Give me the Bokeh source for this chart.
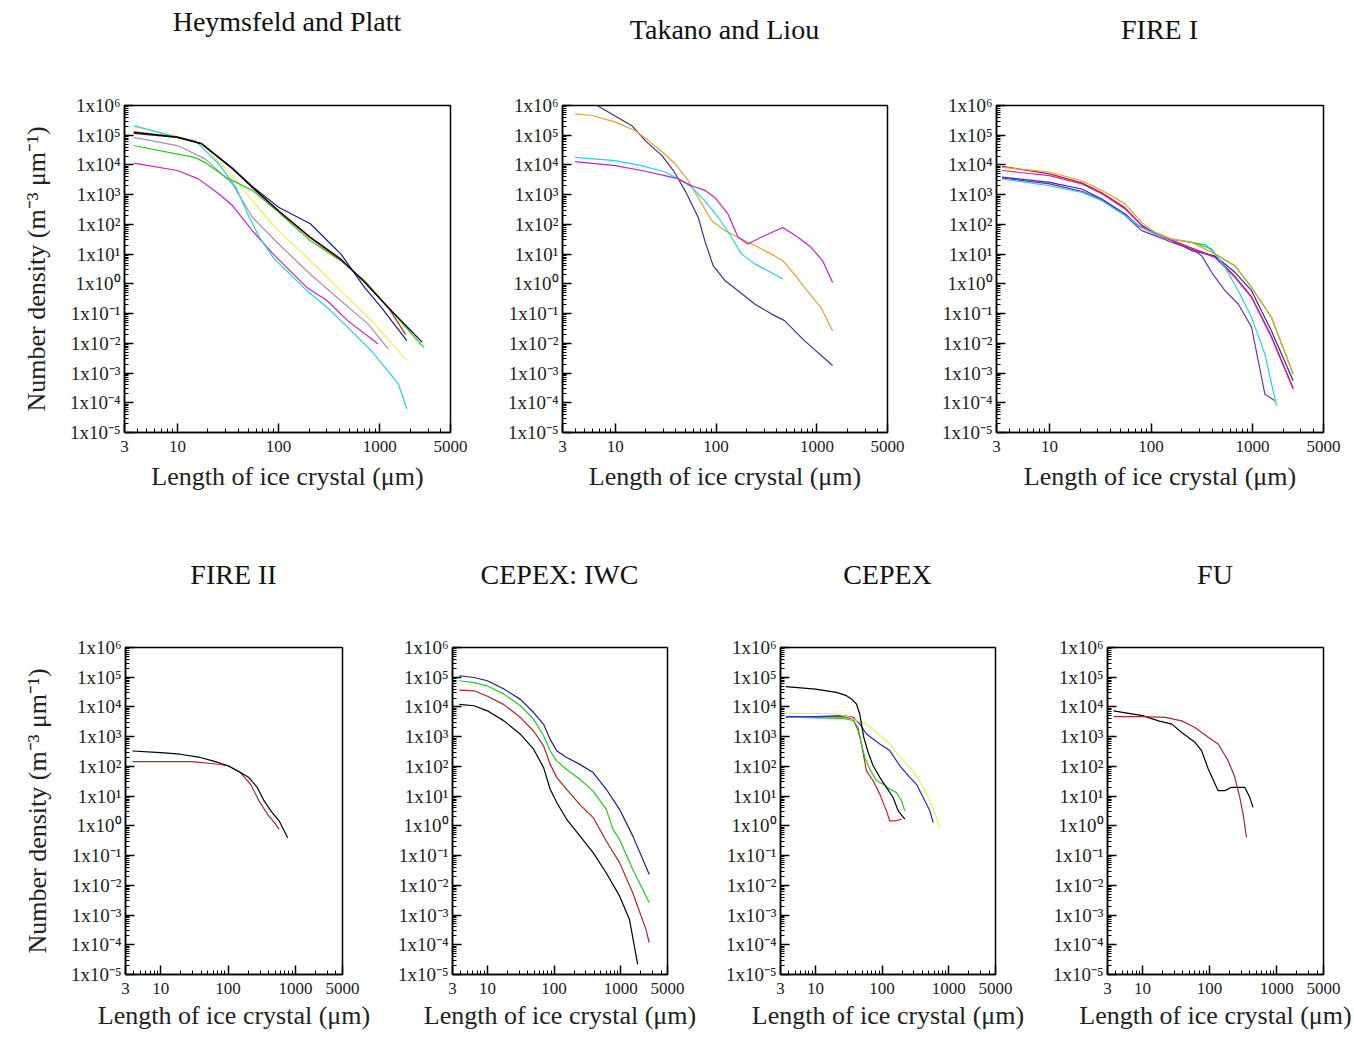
from bokeh.plotting import figure
from bokeh.models import Range1d, FixedTicker, CustomJSTickFormatter, NumeralTickFormatter, Div
from bokeh.layouts import row, column
from bokeh.embed import file_html
from bokeh.resources import INLINE

# ---------------- data ----------------
# Heymsfeld and Platt
HP_BLACK_X = [3.7, 10, 17.4, 35, 55, 100, 206, 412, 707, 1213, 2620]
HP_BLACK_Y = [1.26e5, 8.5e4, 5.1e4, 7.4e3, 1.8e3, 290, 37, 6.9, 1.12, 0.16, 0.011]
HP_NAVY_X = [3.7, 10, 17.4, 35, 55, 100, 206, 353, 412, 707, 1040, 1850]
HP_NAVY_Y = [1.15e5, 8.5e4, 5.2e4, 7.9e3, 1.9e3, 380, 105, 17, 10.2, 0.76, 0.16, 0.0123]
HP_RED_X = [3.7, 10, 17.4, 35, 55, 100, 206, 412, 707, 1213, 1800]
HP_RED_Y = [1.3e5, 8.9e4, 5.2e4, 7.6e3, 1.7e3, 275, 35, 6.3, 1.2, 0.16, 0.02]
HP_GREEN_X = [3.7, 10, 14.9, 18.8, 29.9, 55, 100, 206, 412, 707, 1213, 2730]
HP_GREEN_Y = [4.5e4, 2.3e4, 1.8e4, 1.2e4, 3.9e3, 1.4e3, 257, 28, 6.0, 1.3, 0.16, 0.0072]
HP_CYAN_X = [3.7, 10, 14.9, 25.6, 37.7, 51.3, 64.7, 88, 120, 190, 303, 445, 825, 1528, 1853]
HP_CYAN_Y = [2.1e5, 8.5e4, 6.6e4, 1.1e4, 1.8e3, 174, 37, 7.8, 2.75, 0.59, 0.16, 0.045, 0.0056, 4.3e-4, 6.2e-5]
HP_YELLOW_X = [3.7, 10, 17.4, 35, 55, 75.5, 100, 206, 412, 825, 1853]
HP_YELLOW_Y = [1.95e5, 9.1e4, 5.2e4, 4.4e3, 630, 174, 62, 6.0, 0.59, 0.058, 0.0026]
HP_THISTLE_X = [3.7, 10, 18.8, 35, 55, 100, 206, 412, 764, 1213]
HP_THISTLE_Y = [8.5e4, 4.5e4, 1.6e4, 2.3e3, 174, 22, 2.1, 0.27, 0.045, 0.0065]
HP_MAGENTA_X = [3.7, 10, 16.1, 25.6, 35, 55, 88, 120, 190, 303, 481, 962]
HP_MAGENTA_Y = [1.15e4, 6.5e3, 3.4e3, 1.07e3, 430, 62, 10.2, 3.6, 0.76, 0.27, 0.058, 0.0095]

# Takano and Liou
TL_INDIGO_X = [4, 6.6, 14.6, 19.8, 28.9, 37.7, 49.1, 66.4, 77.3, 93.4, 122, 165, 241, 352, 476, 750, 1428]
TL_INDIGO_Y = [2.7e6, 1e6, 2.1e5, 6.6e4, 2.1e4, 6.5e3, 1.4e3, 174, 28, 4.1, 1.3, 0.59, 0.21, 0.098, 0.058, 0.0123, 0.0018]
TL_ORANGE_X = [4, 5.9, 10, 15.7, 21.3, 31.1, 39.1, 52.9, 66.4, 90, 122, 165, 241, 352, 458, 598, 750, 1095, 1428]
TL_ORANGE_Y = [5.2e5, 4.6e5, 2.75e5, 1.45e5, 6.6e4, 2.3e4, 1.1e4, 2.95e3, 810, 135, 62, 37, 19.5, 10.2, 6.0, 2.1, 0.76, 0.16, 0.026]
TL_CYAN_X = [4, 10, 18.3, 31.1, 42.2, 57.1, 77.3, 105, 142, 178, 241, 326, 458]
TL_CYAN_Y = [1.8e4, 1.4e4, 9.5e3, 5.8e3, 3.4e3, 1.8e3, 630, 174, 37, 10.2, 4.7, 2.75, 1.45]
TL_MAGENTA_X = [4, 10, 18.3, 31.1, 42.2, 57.1, 77.3, 97, 131, 165, 207, 280, 458, 645, 873, 1137, 1428]
TL_MAGENTA_Y = [1.3e4, 9.5e3, 6.5e3, 4.4e3, 3.4e3, 2.0e3, 1.4e3, 810, 224, 37, 22, 37, 79, 37, 17, 6.0, 1.12]

# FIRE I
F1_X = [3.4, 10, 20.8, 32.7, 55.5, 80.9, 109, 160, 251, 426, 670, 977, 1537, 2512]
F1_ORANGE_Y = [8.3e3, 5.8e3, 2.95e3, 1.4e3, 490, 117, 55, 32, 25, 10.2, 4.1, 0.76, 0.074, 9.3e-4]
F1_RED_Y = [8.9e3, 5.0e3, 2.5e3, 1.15e3, 360, 95, 50, 30, 16, 8.2, 1.8, 0.37, 0.017, 3.1e-4]
F1_MAGENTA_Y = [6.5e3, 4.4e3, 2.3e3, 1.07e3, 330, 91, 48, 29, 15, 7.8, 1.66, 0.35, 0.0158, 2.9e-4]
F1_BLUE_X = [3.4, 10, 20.8, 32.7, 55.5, 75, 102, 160, 251, 426, 670, 977, 1537, 2512]
F1_BLUE_Y = [3.9e3, 2.6e3, 1.55e3, 720, 224, 91, 55, 29, 13.2, 8.7, 2.45, 0.59, 0.026, 5.5e-4]
F1_CYAN_X = [3.4, 10, 20.8, 32.7, 55.5, 80.9, 109, 160, 251, 395, 535, 723, 977, 1322, 1722]
F1_CYAN_Y = [3.4e3, 2.0e3, 1.2e3, 630, 200, 79, 48, 32, 25, 15, 3.6, 0.59, 0.074, 0.0044, 7.9e-5]
F1_PURPLE_X = [3.4, 10, 20.8, 32.7, 55.5, 80.9, 109, 160, 251, 315, 395, 535, 723, 977, 1322, 1659]
F1_PURPLE_Y = [3.6e3, 2.3e3, 1.3e3, 680, 200, 62, 42, 25, 15, 8.9, 2.45, 0.59, 0.21, 0.035, 1.95e-4, 1.17e-4]
F1_GREEN_X = [160, 251, 350, 426, 670, 977, 1537, 2512]
F1_GREEN_Y = [32, 25, 20, 10.2, 4.1, 0.76, 0.074, 9.3e-4]

# FIRE II
F2_BLACK_X = [3.8, 10, 19.3, 38.5, 61, 100, 153, 204, 272, 343, 432, 575, 767]
F2_BLACK_Y = [330, 290, 257, 200, 151, 105, 62, 42, 19.5, 6.9, 3.2, 1.45, 0.40]
F2_RED_X = [3.8, 10, 28.8, 61, 100, 153, 216, 288, 385, 484, 575]
F2_RED_Y = [145, 145, 145, 123, 105, 62, 25, 6.9, 2.45, 1.3, 0.76]

# CEPEX: IWC
CI_BLUE_X = [3.8, 6.3, 10, 17.7, 31.3, 49.3, 69.5, 87.3, 110, 154, 243, 384, 605, 955, 1507, 2666]
CI_BLUE_Y = [1.12e5, 9.8e4, 7.6e4, 4.0e4, 1.8e4, 6.5e3, 2.6e3, 810, 330, 200, 117, 62, 17, 3.6, 0.46, 0.023]
CI_GREEN_X = [3.8, 6.3, 10, 17.7, 31.3, 49.3, 69.5, 87.3, 110, 154, 243, 384, 605, 760, 955, 1507, 2122, 2666]
CI_GREEN_Y = [7.6e4, 6.6e4, 5.1e4, 2.7e4, 1.1e4, 3.9e3, 1.07e3, 330, 151, 79, 37, 14.8, 3.6, 0.76, 0.35, 0.035, 0.0072, 0.0026]
CI_RED_X = [3.8, 6.3, 10, 17.7, 31.3, 49.3, 69.5, 87.3, 110, 154, 243, 384, 605, 955, 1507, 2377, 2666]
CI_RED_Y = [3.7e4, 3.5e4, 2.3e4, 1.2e4, 4.4e3, 1.55e3, 490, 117, 42, 17, 5.2, 1.9, 0.31, 0.058, 0.0056, 3.3e-4, 1.17e-4]
CI_BLACK_X = [3.8, 6.3, 10, 17.7, 31.3, 49.3, 69.5, 87.3, 110, 154, 243, 384, 605, 955, 1345, 1786]
CI_BLACK_Y = [1.23e4, 1.1e4, 7.4e3, 3.4e3, 1.2e3, 380, 91, 17, 6.0, 1.66, 0.46, 0.126, 0.026, 0.0044, 7.1e-4, 2.2e-5]

# CEPEX
CE_BLACK_X = [3.6, 10, 20.7, 29.2, 34.7, 41.2, 46.2, 49, 53.1, 61.7, 73.3, 92.3, 116, 146, 174, 219]
CE_BLACK_Y = [4.8e4, 4.0e4, 3.1e4, 2.4e4, 1.86e4, 1.26e4, 5.8e3, 2.7e3, 950, 300, 105, 43, 19.6, 9.0, 3.2, 1.68]
CE_YELLOW_X = [3.6, 10, 20.7, 32.7, 41.2, 58.2, 82.2, 130, 207, 292, 412, 519, 653, 733]
CE_YELLOW_Y = [6.1e3, 6.1e3, 5.8e3, 4.5e3, 3.5e3, 2.7e3, 1.4e3, 570, 155, 71, 19.6, 7.0, 1.9, 0.88]
CE_BLUE_X = [3.6, 10, 26, 36.7, 46.2, 58.2, 92.3, 130, 184, 260, 327, 412, 519, 582]
CE_BLUE_Y = [4.7e3, 4.7e3, 5.1e3, 4.5e3, 2.7e3, 1.23e3, 570, 340, 105, 43, 25, 9.0, 3.2, 1.3]
CE_GREEN_X = [3.6, 10, 26, 36.7, 43.7, 49, 55, 65.3, 82.2, 104, 130, 164, 195, 219]
CE_GREEN_Y = [4.5e3, 4.3e3, 4.15e3, 3.5e3, 2.07e3, 570, 200, 81, 33, 25, 17.2, 13.3, 7.0, 3.2]
CE_RED_X = [3.6, 10, 26, 36.7, 43.7, 49, 58.2, 73.3, 92.3, 116, 130, 164, 195]
CE_RED_Y = [4.5e3, 4.5e3, 4.7e3, 3.95e3, 1.6e3, 570, 71, 33, 11.7, 3.2, 1.48, 1.48, 1.68]

# FU
FU_BLACK_X = [3.7, 6.2, 10, 17.3, 27.3, 38.4, 60.5, 76, 95.5, 134, 169, 212, 335, 397, 445]
FU_BLACK_Y = [7.4e3, 6.1e3, 5.1e3, 3.4e3, 2.65e3, 1.39e3, 645, 338, 82, 15.3, 15.3, 19.8, 19.8, 9.1, 4.2]
FU_RED_X = [3.7, 10, 21.7, 38.4, 60.5, 95.5, 134, 189, 238, 282, 316, 355]
FU_RED_Y = [4.7e3, 4.7e3, 4.45e3, 3.4e3, 2.05e3, 950, 570, 156, 43, 9.1, 2.5, 0.41]

TITLES = ["Heymsfeld and Platt", "Takano and Liou", "FIRE I",
          "FIRE II", "CEPEX: IWC", "CEPEX", "FU"]
X_LABEL = "Length of ice crystal (\u03bcm)"
Y_LABEL = "Number density (m\u207b\u00b3 \u03bcm\u207b\u00b9)"
X_MAJOR = [3, 10, 100, 1000, 5000]
X_MINOR = [4, 5, 6, 7, 8, 9, 20, 30, 40, 50, 60, 70, 80, 90,
           200, 300, 400, 500, 600, 700, 800, 900, 2000, 3000, 4000]
Y_EXPONENTS = list(range(-5, 7))

BLACK = "#000000"; NAVY = "#1c1c96"; RED = "#b42222"; GREEN = "#22cc22"
CYAN = "#22d4e4"; YELLOW = "#eeee55"; MAGENTA = "#c424c4"; THISTLE = "#a890a8"
ORANGE = "#e2a22c"; INDIGO = "#4a2c8c"; PURPLE = "#7a30b0"; BLUE = "#2a2ab8"
DKRED = "#a82a2a"

FONT = "Liberation Serif"

y_major = [10.0 ** e for e in Y_EXPONENTS]
y_minor = [m * 10.0 ** e for e in Y_EXPONENTS[:-1] for m in range(2, 10)]

Y_FMT = CustomJSTickFormatter(code="""
const sup = {"-":"\u207b","0":"\u2070","1":"\u00b9","2":"\u00b2","3":"\u00b3","4":"\u2074",
             "5":"\u2075","6":"\u2076","7":"\u2077","8":"\u2078","9":"\u2079"};
const e = Math.round(Math.log10(tick));
return "1x10" + String(e).split("").map(c => sup[c]).join("");
""")


def make_panel(left, fw, right, top, fh, bottom, ylabel, xlabel_standoff):
    p = figure(x_axis_type="log", y_axis_type="log",
               x_range=Range1d(3, 5000), y_range=Range1d(1e-5, 1e6),
               frame_width=fw, frame_height=fh,
               min_border_left=left, min_border_right=right,
               min_border_top=top, min_border_bottom=bottom,
               output_backend="svg", toolbar_location=None)
    p.xgrid.visible = False
    p.ygrid.visible = False
    p.outline_line_color = "black"
    p.outline_line_width = 1.5
    p.outline_line_alpha = 1.0
    p.background_fill_color = "white"
    p.border_fill_color = "white"

    xa = p.xaxis[0]
    xa.ticker = FixedTicker(ticks=X_MAJOR, minor_ticks=X_MINOR)
    xa.formatter = NumeralTickFormatter(format="0")
    xa.axis_label = X_LABEL
    ya = p.yaxis[0]
    ya.ticker = FixedTicker(ticks=y_major, minor_ticks=y_minor)
    ya.formatter = Y_FMT
    if ylabel:
        ya.axis_label = Y_LABEL
    for ax in (xa, ya):
        ax.axis_line_color = "black"
        ax.axis_line_width = 1.5
        ax.major_tick_in = 9
        ax.major_tick_out = 0
        ax.minor_tick_in = 4
        ax.minor_tick_out = 0
        ax.major_tick_line_color = "black"
        ax.major_tick_line_width = 1.5
        ax.minor_tick_line_color = "black"
        ax.minor_tick_line_width = 1
        ax.major_label_text_font = FONT
        ax.major_label_text_color = "#222222"
        ax.axis_label_text_font = FONT
        ax.axis_label_text_font_style = "normal"
        ax.axis_label_text_font_size = "26px"
        ax.axis_label_text_color = "#222222"
    xa.major_label_text_font_size = "17px"
    xa.major_label_standoff = 8
    xa.axis_label_standoff = xlabel_standoff
    ya.major_label_text_font_size = "19px"
    ya.major_label_standoff = 4
    ya.axis_label_standoff = 16
    return p


def title_div(text, left, fw, right, height, dy):
    width = left + fw + right
    shift = (left - right) / 2.0
    html = ('<div style="position:relative; left:%.1fpx; top:%dpx; width:%dpx; text-align:center; '
            'font-family:\'Liberation Serif\', serif; font-size:28px; line-height:32px; '
            'color:#111111; white-space:nowrap;">%s</div>') % (shift, dy, width, text)
    return Div(text=html, width=width, height=height, margin=0)


def add(p, xs, ys, color):
    p.line(xs, ys, line_color=color, line_width=1.2)


TT_H, BT_H = 60, 60          # heights of the title strips
TOP_T, TOP_H, TOP_B = 45, 327, 103
BOT_T, BOT_H, BOT_B = 52, 327, 64

# panel geometry: (left border, frame width, right border)
GA, GB, GC = (124, 326, 20), (92, 325, 18), (91, 327, 31)
GD, GE, GF, GG = (125, 217, 30), (80, 215, 33), (80, 215, 35), (77, 216, 31)

pa = make_panel(GA[0], GA[1], GA[2], TOP_T, TOP_H, TOP_B, True, 7)
for xs, ys, c in [(HP_THISTLE_X, HP_THISTLE_Y, THISTLE), (HP_MAGENTA_X, HP_MAGENTA_Y, MAGENTA),
                  (HP_YELLOW_X, HP_YELLOW_Y, YELLOW), (HP_CYAN_X, HP_CYAN_Y, CYAN),
                  (HP_GREEN_X, HP_GREEN_Y, GREEN), (HP_RED_X, HP_RED_Y, RED),
                  (HP_NAVY_X, HP_NAVY_Y, NAVY), (HP_BLACK_X, HP_BLACK_Y, BLACK)]:
    add(pa, xs, ys, c)

pb = make_panel(GB[0], GB[1], GB[2], TOP_T, TOP_H, TOP_B, False, 7)
for xs, ys, c in [(TL_INDIGO_X, TL_INDIGO_Y, INDIGO), (TL_ORANGE_X, TL_ORANGE_Y, ORANGE),
                  (TL_CYAN_X, TL_CYAN_Y, CYAN), (TL_MAGENTA_X, TL_MAGENTA_Y, MAGENTA)]:
    add(pb, xs, ys, c)

pc = make_panel(GC[0], GC[1], GC[2], TOP_T, TOP_H, TOP_B, False, 7)
for xs, ys, c in [(F1_X, F1_RED_Y, RED), (F1_BLUE_X, F1_BLUE_Y, BLUE),
                  (F1_PURPLE_X, F1_PURPLE_Y, PURPLE), (F1_X, F1_MAGENTA_Y, MAGENTA),
                  (F1_CYAN_X, F1_CYAN_Y, CYAN), (F1_GREEN_X, F1_GREEN_Y, GREEN),
                  (F1_X, F1_ORANGE_Y, ORANGE)]:
    add(pc, xs, ys, c)

pd = make_panel(GD[0], GD[1], GD[2], BOT_T, BOT_H, BOT_B, True, 4)
for xs, ys, c in [(F2_RED_X, F2_RED_Y, DKRED), (F2_BLACK_X, F2_BLACK_Y, BLACK)]:
    add(pd, xs, ys, c)

pe = make_panel(GE[0], GE[1], GE[2], BOT_T, BOT_H, BOT_B, False, 4)
for xs, ys, c in [(CI_BLUE_X, CI_BLUE_Y, NAVY), (CI_GREEN_X, CI_GREEN_Y, GREEN),
                  (CI_RED_X, CI_RED_Y, RED), (CI_BLACK_X, CI_BLACK_Y, BLACK)]:
    add(pe, xs, ys, c)

pf = make_panel(GF[0], GF[1], GF[2], BOT_T, BOT_H, BOT_B, False, 4)
for xs, ys, c in [(CE_RED_X, CE_RED_Y, "#d02020"), (CE_BLUE_X, CE_BLUE_Y, BLUE),
                  (CE_GREEN_X, CE_GREEN_Y, GREEN), (CE_YELLOW_X, CE_YELLOW_Y, YELLOW),
                  (CE_BLACK_X, CE_BLACK_Y, BLACK)]:
    add(pf, xs, ys, c)

pg = make_panel(GG[0], GG[1], GG[2], BOT_T, BOT_H, BOT_B, False, 4)
for xs, ys, c in [(FU_BLACK_X, FU_BLACK_Y, BLACK), (FU_RED_X, FU_RED_Y, DKRED)]:
    add(pg, xs, ys, c)

top_titles = row(title_div(TITLES[0], *GA, TT_H, 6), title_div(TITLES[1], *GB, TT_H, 14),
                 title_div(TITLES[2], *GC, TT_H, 14))
bot_titles = row(title_div(TITLES[3], *GD, BT_H, 24), title_div(TITLES[4], *GE, BT_H, 24),
                 title_div(TITLES[5], *GF, BT_H, 24), title_div(TITLES[6], *GG, BT_H, 24))

layout = column(top_titles, row(pa, pb, pc), bot_titles, row(pd, pe, pf, pg))
open("out.html", "w").write(file_html(layout, INLINE))
